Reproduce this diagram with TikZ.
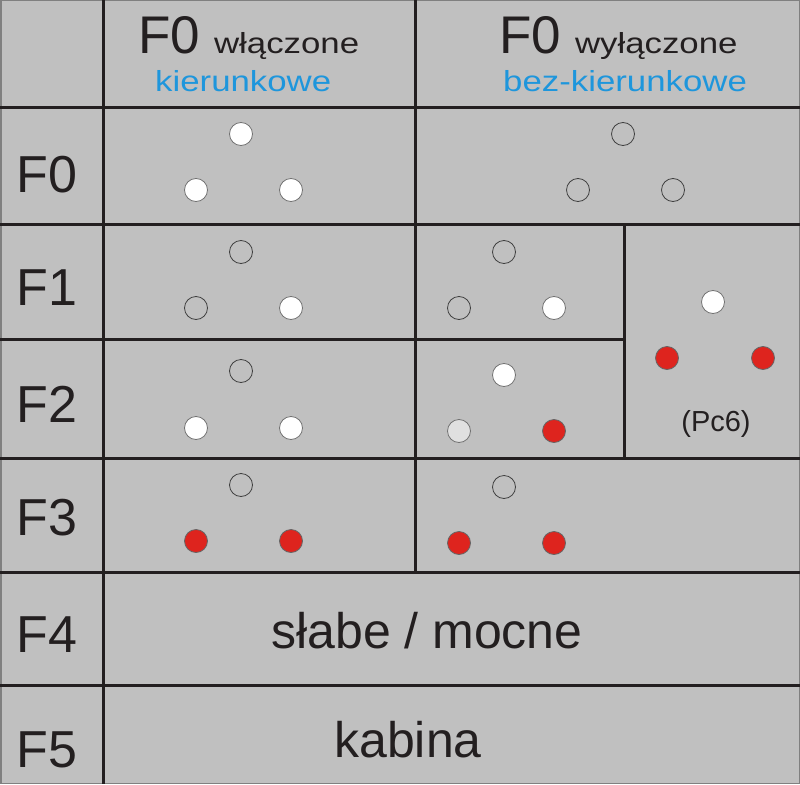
\documentclass[tikz,border=0pt]{standalone}
\usepackage{fontspec}
\setmainfont{Liberation Sans}
\newfontfamily\wideFont{Liberation Sans}[FakeStretch=1.2]
\definecolor{bgGray}{RGB}{192,192,192}
\definecolor{lineDark}{RGB}{35,31,32}
\definecolor{lampRed}{RGB}{222,36,30}
\definecolor{headBlue}{RGB}{30,150,220}
\begin{document}
\begin{tikzpicture}
        [x=1pt, y=-1pt,
        grid/.style={line width=3pt, lineDark},
        rowLabel/.style={anchor=base, inner sep=0pt, font=\fontsize{52}{52}\selectfont, text=lineDark},
        bigText/.style={anchor=base, inner sep=0pt, font=\fontsize{50}{50}\selectfont, text=lineDark},
        head/.style={anchor=base west, inner sep=0pt, text=lineDark},
        headSub/.style={anchor=base west, inner sep=0pt, font=\wideFont\fontsize{29}{29}\selectfont, text=headBlue},
        dotOff/.style={circle, draw=black!75, line width=0.8pt, minimum size=23pt, inner sep=0pt},
        dotWhite/.style={circle, draw=black!55, line width=0.8pt, fill=white, minimum size=23pt, inner sep=0pt},
        dotGray/.style={circle, draw=black!55, line width=0.8pt, fill=black!12, minimum size=23pt, inner sep=0pt},
        dotRed/.style={circle, draw=black!60, line width=0.8pt, fill=lampRed, minimum size=23pt, inner sep=0pt}]
        \useasboundingbox (0,0) rectangle (800,784);
        \fill[bgGray] (0,0) rectangle (800,784);
        \draw[black!50, line width=1.5pt] (0.75,0.75) rectangle (799.25,783.25);

        % table lines
        \draw[grid] (0,107) -- (800,107);
        \draw[grid] (0,224) -- (800,224);
        \draw[grid] (0,339) -- (624,339);
        \draw[grid] (0,458) -- (800,458);
        \draw[grid] (0,572) -- (800,572);
        \draw[grid] (0,685) -- (800,685);
        \draw[grid] (103,0) -- (103,784);
        \draw[grid] (415,0) -- (415,572);
        \draw[grid] (624,224) -- (624,458);

        % header
        \node[head] (HL) at (138,53) {{\fontsize{53}{53}\selectfont F0}\hspace{14pt}{\wideFont\fontsize{29}{29}\selectfont włączone}};
        \node[headSub] (HLs) at (155,92) {kierunkowe};
        \node[head] (HR) at (499,53) {{\fontsize{53}{53}\selectfont F0}\hspace{14pt}{\wideFont\fontsize{29}{29}\selectfont wyłączone}};
        \node[headSub] (HRs) at (503,92) {bez-kierunkowe};

        % row labels
        \node[rowLabel] (R0) at (47,192) {F0};
        \node[rowLabel] (R1) at (47,305) {F1};
        \node[rowLabel] (R2) at (47,422) {F2};
        \node[rowLabel] (R3) at (47,535) {F3};
        \node[rowLabel] (R4) at (47,652) {F4};
        \node[rowLabel] (R5) at (47,767) {F5};

        % F0
        \node[dotWhite] (A0t) at (241,134) {};
        \node[dotWhite] (A0l) at (196,190) {};
        \node[dotWhite] (A0r) at (291,190) {};
        \node[dotOff] (B0t) at (623,134) {};
        \node[dotOff] (B0l) at (578,190) {};
        \node[dotOff] (B0r) at (673,190) {};

        % F1
        \node[dotOff] (A1t) at (241,252) {};
        \node[dotOff] (A1l) at (196,308) {};
        \node[dotWhite] (A1r) at (291,308) {};
        \node[dotOff] (B1t) at (504,252) {};
        \node[dotOff] (B1l) at (459,308) {};
        \node[dotWhite] (B1r) at (554,308) {};

        % F2
        \node[dotOff] (A2t) at (241,371) {};
        \node[dotWhite] (A2l) at (196,428) {};
        \node[dotWhite] (A2r) at (291,428) {};
        \node[dotWhite] (B2t) at (504,375) {};
        \node[dotGray] (B2l) at (459,431) {};
        \node[dotRed] (B2r) at (554,431) {};

        % Pc6
        \node[dotWhite] (Ct) at (713,302) {};
        \node[dotRed] (Cl) at (667,358) {};
        \node[dotRed] (Cr) at (763,358) {};
        \node[anchor=base, inner sep=0pt, font=\fontsize{29}{29}\selectfont, text=lineDark] (Pc) at (716,431) {(Pc6)};

        % F3
        \node[dotOff] (A3t) at (241,485) {};
        \node[dotRed] (A3l) at (196,541) {};
        \node[dotRed] (A3r) at (291,541) {};
        \node[dotOff] (B3t) at (504,487) {};
        \node[dotRed] (B3l) at (459,543) {};
        \node[dotRed] (B3r) at (554,543) {};

        % F4, F5
        \node[bigText] (T4) at (427,648) {słabe / mocne};
        \node[bigText] (T5) at (408,757) {kabina};
\end{tikzpicture}
\end{document}
